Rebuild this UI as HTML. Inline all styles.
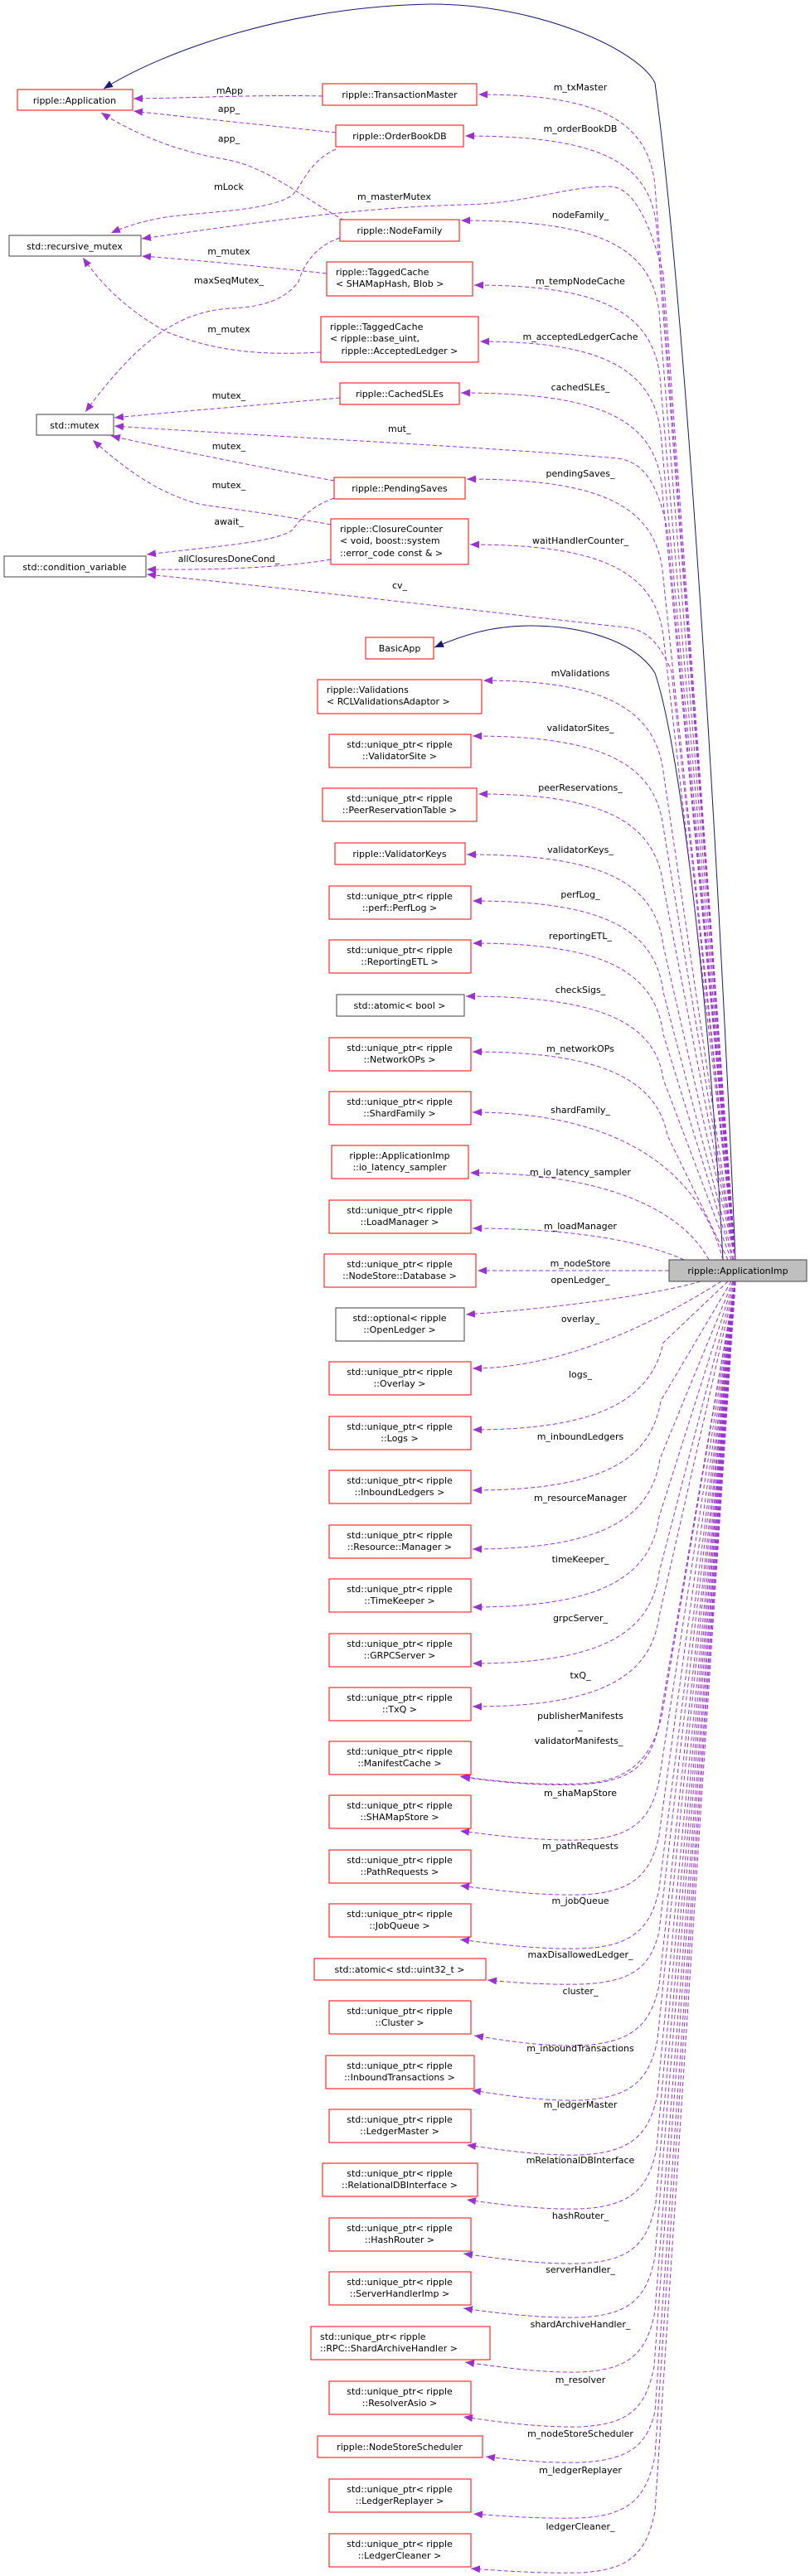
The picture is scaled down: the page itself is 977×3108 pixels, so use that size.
<!DOCTYPE html>
<html><head><meta charset="utf-8"><style>
html,body{margin:0;padding:0;background:#fff;}
svg{display:block;}
text{font-family:"DejaVu Sans","Liberation Sans",sans-serif;font-size:11px;fill:#000;}
.r{fill:#fff;stroke:#ff0000;stroke-width:1;}
.k{fill:#fff;stroke:#404040;stroke-width:1;}
.g{fill:#bfbfbf;stroke:#404040;stroke-width:1;}
.e{fill:none;stroke:#9a32cd;stroke-width:1;stroke-dasharray:5,3;}
.n{fill:none;stroke:#191970;stroke-width:1;}
.m{text-anchor:middle;}
</style></head><body>
<svg width="977" height="3108" viewBox="0 0 977 3108" xmlns="http://www.w3.org/2000/svg">
<defs>
<marker id="ap" markerUnits="userSpaceOnUse" markerWidth="12" markerHeight="10" refX="11" refY="4.5" orient="auto"><path d="M0,0 L11,4.5 L0,9 z" fill="#9a32cd"/></marker>
<marker id="an" markerUnits="userSpaceOnUse" markerWidth="12" markerHeight="10" refX="11" refY="4.5" orient="auto"><path d="M0,0 L11,4.5 L0,9 z" fill="#191970"/></marker>
</defs>

<!-- inheritance -->
<path class="n" marker-end="url(#an)" d="M887,1520 C870,1100 830,400 790,100 C770,60 650,5 520,5 C350,8 200,60 125,107"/>
<path class="n" marker-end="url(#an)" d="M872,1520 C855,1200 820,900 790,812 C765,772 700,755 640,755 C590,755 555,768 524,781"/>

<!-- left-side edges -->
<path class="e" marker-end="url(#ap)" d="M389,116 C320,114 240,118 161,119"/>
<path class="e" marker-end="url(#ap)" d="M405,160 C330,152 240,143 161,134"/>
<path class="e" marker-end="url(#ap)" d="M415,266 C360,235 320,200 270,192 C210,182 160,160 122,136"/>
<path class="e" marker-end="url(#ap)" d="M405,180 C372,195 366,222 352,236 C322,255 250,255 200,262 C170,267 150,274 134,281"/>
<path class="e" marker-end="url(#ap)" d="M887,1520 L800,330 C782,262 762,225 735,225 C680,225 640,245 560,247 C430,250 300,270 171,288"/>
<path class="e" marker-end="url(#ap)" d="M394,330 C320,322 240,314 171,309"/>
<path class="e" marker-end="url(#ap)" d="M410,287 C380,297 366,320 360,340 C345,360 320,370 280,372 C220,375 170,405 103,497"/>
<path class="e" marker-end="url(#ap)" d="M387,425 C300,430 250,420 200,400 C150,372 122,342 100,311"/>
<path class="e" marker-end="url(#ap)" d="M410,480 C320,488 220,496 138,504"/>
<path class="e" marker-end="url(#ap)" d="M887,1520 L805,640 C792,575 772,557 745,553 C600,540 300,525 138,514"/>
<path class="e" marker-end="url(#ap)" d="M403,580 C320,565 220,545 134,526"/>
<path class="e" marker-end="url(#ap)" d="M399,633 C320,618 260,612 240,608 C190,595 150,565 112,531"/>
<path class="e" marker-end="url(#ap)" d="M403,601 C372,612 362,628 352,640 C330,655 250,660 177,669"/>
<path class="e" marker-end="url(#ap)" d="M399,675 C340,685 260,688 177,687"/>
<path class="e" marker-end="url(#ap)" d="M887,1520 L810,810 C795,775 780,760 755,757 C600,740 400,715 177,693"/>

<!-- upper edges from ApplicationImp -->
<path class="e" marker-end="url(#ap)" d="M887,1520 L790,224 C782,144 720,114 577,114"/>
<path class="e" marker-end="url(#ap)" d="M887,1520 L792,274 C784,194 720,164 561,164"/>
<path class="e" marker-end="url(#ap)" d="M887,1520 L795,376 C785,296 720,266 556,266"/>
<path class="e" marker-end="url(#ap)" d="M887,1520 L796,454 C786,374 720,344 572,344"/>
<path class="e" marker-end="url(#ap)" d="M887,1520 L797,522 C787,442 720,412 579,412"/>
<path class="e" marker-end="url(#ap)" d="M887,1520 L798,584 C788,504 720,474 556,474"/>
<path class="e" marker-end="url(#ap)" d="M887,1520 L799,688 C789,608 720,578 563,578"/>
<path class="e" marker-end="url(#ap)" d="M887,1520 L800,767 C790,687 720,657 567,657"/>
<path class="e" marker-end="url(#ap)" d="M887,1520 L800,931 C790,851 720,821 583,821"/>
<path class="e" marker-end="url(#ap)" d="M887,1520 L800,998 C790,918 720,888 570,888"/>
<path class="e" marker-end="url(#ap)" d="M887,1520 L800,1068 C790,988 720,958 577,958"/>
<path class="e" marker-end="url(#ap)" d="M887,1520 L800,1141 C790,1061 720,1031 563,1031"/>
<path class="e" marker-end="url(#ap)" d="M885,1520 L800,1197 C790,1117 720,1087 570,1087"/>
<path class="e" marker-end="url(#ap)" d="M884,1520 L800,1248 C790,1168 720,1138 570,1138"/>
<path class="e" marker-end="url(#ap)" d="M882,1520 L800,1302 C790,1232 720,1202 562,1202"/>
<path class="e" marker-end="url(#ap)" d="M878,1520 L805,1370 C792,1300 720,1269 570,1269"/>
<path class="e" marker-end="url(#ap)" d="M872,1520 C840,1400 730,1342 570,1342"/>
<path class="e" marker-end="url(#ap)" d="M855,1520 C820,1455 720,1415 567,1415"/>
<path class="e" marker-end="url(#ap)" d="M825,1520 C770,1495 680,1482 570,1482"/>

<!-- lower edges -->
<path class="e" marker-end="url(#ap)" d="M807,1533 L576,1533"/>
<path class="e" marker-end="url(#ap)" d="M845,1546 C780,1565 650,1580 562,1586"/>
<path class="e" marker-end="url(#ap)" d="M870,1546 C830,1571 700,1651 570,1651"/>
<path class="e" marker-end="url(#ap)" d="M878,1546 L800,1620 C785,1690 720,1725 570,1725"/>
<path class="e" marker-end="url(#ap)" d="M882,1546 L797,1690 C785,1765 720,1798 570,1798"/>
<path class="e" marker-end="url(#ap)" d="M884,1546 L796,1760 C785,1835 720,1869 570,1869"/>
<path class="e" marker-end="url(#ap)" d="M885,1546 L795,1830 C785,1905 720,1939 570,1939"/>
<path class="e" marker-end="url(#ap)" d="M886,1546 L795,1897 C785,1973 720,2007 570,2007"/>
<path class="e" marker-end="url(#ap)" d="M887,1546 L795,1950 C785,2025 720,2059 570,2059"/>
<path class="e" marker-end="url(#ap)" d="M887,1546 L800,2060 C790,2120 760,2150 700,2152 C650,2154 600,2150 555,2143"/>
<path class="e" marker-end="url(#ap)" d="M887,1546 L795,2080 C785,2130 760,2150 700,2153 C650,2155 600,2150 556,2144"/>
<path class="e" marker-end="url(#ap)" d="M887,1546 L795,2148 C785,2198 760,2218 700,2220 C650,2221 600,2215 555,2209"/>
<path class="e" marker-end="url(#ap)" d="M887,1546 L795,2214 C785,2264 760,2284 700,2286 C650,2287 600,2281 555,2275"/>
<path class="e" marker-end="url(#ap)" d="M887,1546 L795,2279 C785,2329 760,2349 700,2351 C650,2352 600,2346 555,2340"/>
<path class="e" marker-end="url(#ap)" d="M887,1546 L795,2330 C785,2375 760,2392 700,2394 C660,2395 620,2392 588,2389"/>
<path class="e" marker-end="url(#ap)" d="M887,1546 L795,2395 C785,2445 760,2465 700,2468 C650,2469 610,2462 572,2456"/>
<path class="e" marker-end="url(#ap)" d="M887,1546 L793,2461 C783,2511 760,2531 700,2534 C650,2535 610,2528 569,2522"/>
<path class="e" marker-end="url(#ap)" d="M887,1546 L793,2527 C783,2577 760,2597 700,2600 C650,2601 605,2594 563,2588"/>
<path class="e" marker-end="url(#ap)" d="M887,1546 L792,2592 C782,2642 760,2662 700,2665 C650,2666 605,2660 563,2654"/>
<path class="e" marker-end="url(#ap)" d="M887,1546 L791,2658 C781,2708 760,2728 700,2731 C650,2732 600,2725 559,2719"/>
<path class="e" marker-end="url(#ap)" d="M887,1546 L790,2723 C780,2773 760,2793 700,2796 C650,2797 600,2791 559,2785"/>
<path class="e" marker-end="url(#ap)" d="M887,1546 L790,2789 C780,2839 760,2859 700,2862 C650,2863 605,2856 561,2850"/>
<path class="e" marker-end="url(#ap)" d="M887,1546 L789,2855 C779,2905 760,2925 700,2928 C650,2929 600,2922 559,2916"/>
<path class="e" marker-end="url(#ap)" d="M887,1546 L790,2910 C780,2950 760,2968 700,2971 C660,2972 620,2968 586,2964"/>
<path class="e" marker-end="url(#ap)" d="M887,1546 L790,2963 C780,3013 760,3035 700,3038 C650,3039 610,3036 571,3033"/>
<path class="e" marker-end="url(#ap)" d="M887,1546 L790,3030 C780,3080 760,3101 700,3104 C650,3105 610,3102 568,3099"/>

<!-- nodes left -->
<rect class="r" x="21" y="108" width="139" height="25"/><text class="m" x="90" y="125">ripple::Application</text>
<rect class="k" x="11" y="284" width="159" height="25"/><text class="m" x="90" y="301">std::recursive_mutex</text>
<rect class="k" x="44" y="500" width="93" height="25"/><text class="m" x="90" y="517">std::mutex</text>
<rect class="k" x="5" y="671" width="171" height="25"/><text class="m" x="90" y="688">std::condition_variable</text>

<!-- nodes middle top -->
<rect class="r" x="389" y="101" width="186" height="26"/><text class="m" x="482" y="118">ripple::TransactionMaster</text>
<rect class="r" x="405" y="151" width="154" height="26"/><text class="m" x="482" y="168">ripple::OrderBookDB</text>
<rect class="r" x="410" y="265" width="144" height="26"/><text class="m" x="482" y="282">ripple::NodeFamily</text>
<rect class="r" x="394" y="316" width="176" height="41"/><text x="405" y="332">ripple::TaggedCache</text><text x="405" y="346">&lt; SHAMapHash, Blob &gt;</text>
<rect class="r" x="387" y="382" width="190" height="55"/><text x="398" y="398">ripple::TaggedCache</text><text x="398" y="412">&lt; ripple::base_uint,</text><text class="m" x="482" y="427">ripple::AcceptedLedger &gt;</text>
<rect class="r" x="410" y="462" width="144" height="26"/><text class="m" x="482" y="479">ripple::CachedSLEs</text>
<rect class="r" x="403" y="576" width="158" height="26"/><text class="m" x="482" y="593">ripple::PendingSaves</text>
<rect class="r" x="399" y="626" width="166" height="55"/><text x="410" y="642">ripple::ClosureCounter</text><text x="410" y="656">&lt; void, boost::system</text><text x="410" y="671">::error_code const &amp; &gt;</text>
<rect class="r" x="441" y="769" width="82" height="26"/><text class="m" x="482" y="786">BasicApp</text>
<rect class="r" x="383" y="820" width="198" height="41"/><text x="394" y="836">ripple::Validations</text><text x="394" y="850">&lt; RCLValidationsAdaptor &gt;</text>

<!-- unique_ptr etc -->
<rect class="r" x="397" y="886" width="171" height="40"/><text class="m" x="482" y="902">std::unique_ptr&lt; ripple</text><text class="m" x="482" y="916">::ValidatorSite &gt;</text>
<rect class="r" x="389" y="951" width="186" height="40"/><text class="m" x="482" y="967">std::unique_ptr&lt; ripple</text><text class="m" x="482" y="981">::PeerReservationTable &gt;</text>
<rect class="r" x="404" y="1017" width="157" height="26"/><text class="m" x="482" y="1034">ripple::ValidatorKeys</text>
<rect class="r" x="397" y="1069" width="171" height="40"/><text class="m" x="482" y="1085">std::unique_ptr&lt; ripple</text><text class="m" x="482" y="1099">::perf::PerfLog &gt;</text>
<rect class="r" x="397" y="1134" width="171" height="40"/><text class="m" x="482" y="1150">std::unique_ptr&lt; ripple</text><text class="m" x="482" y="1164">::ReportingETL &gt;</text>
<rect class="k" x="406" y="1200" width="154" height="26"/><text class="m" x="482" y="1217">std::atomic&lt; bool &gt;</text>
<rect class="r" x="397" y="1252" width="171" height="40"/><text class="m" x="482" y="1268">std::unique_ptr&lt; ripple</text><text class="m" x="482" y="1282">::NetworkOPs &gt;</text>
<rect class="r" x="397" y="1317" width="171" height="40"/><text class="m" x="482" y="1333">std::unique_ptr&lt; ripple</text><text class="m" x="482" y="1347">::ShardFamily &gt;</text>
<rect class="r" x="400" y="1382" width="165" height="40"/><text class="m" x="482" y="1398">ripple::ApplicationImp</text><text class="m" x="482" y="1412">::io_latency_sampler</text>
<rect class="r" x="397" y="1448" width="171" height="40"/><text class="m" x="482" y="1464">std::unique_ptr&lt; ripple</text><text class="m" x="482" y="1478">::LoadManager &gt;</text>
<rect class="r" x="391" y="1513" width="183" height="40"/><text class="m" x="482" y="1529">std::unique_ptr&lt; ripple</text><text class="m" x="482" y="1543">::NodeStore::Database &gt;</text>
<rect class="g" x="807" y="1520" width="166" height="26"/><text class="m" x="890" y="1537">ripple::ApplicationImp</text>
<rect class="k" x="405" y="1578" width="155" height="40"/><text class="m" x="482" y="1594">std::optional&lt; ripple</text><text class="m" x="482" y="1608">::OpenLedger &gt;</text>
<rect class="r" x="397" y="1643" width="171" height="40"/><text class="m" x="482" y="1659">std::unique_ptr&lt; ripple</text><text class="m" x="482" y="1673">::Overlay &gt;</text>
<rect class="r" x="397" y="1709" width="171" height="40"/><text class="m" x="482" y="1725">std::unique_ptr&lt; ripple</text><text class="m" x="482" y="1739">::Logs &gt;</text>
<rect class="r" x="397" y="1774" width="171" height="40"/><text class="m" x="482" y="1790">std::unique_ptr&lt; ripple</text><text class="m" x="482" y="1804">::InboundLedgers &gt;</text>
<rect class="r" x="397" y="1840" width="171" height="40"/><text class="m" x="482" y="1856">std::unique_ptr&lt; ripple</text><text class="m" x="482" y="1870">::Resource::Manager &gt;</text>
<rect class="r" x="397" y="1905" width="171" height="40"/><text class="m" x="482" y="1921">std::unique_ptr&lt; ripple</text><text class="m" x="482" y="1935">::TimeKeeper &gt;</text>
<rect class="r" x="397" y="1971" width="171" height="40"/><text class="m" x="482" y="1987">std::unique_ptr&lt; ripple</text><text class="m" x="482" y="2001">::GRPCServer &gt;</text>
<rect class="r" x="397" y="2036" width="171" height="40"/><text class="m" x="482" y="2052">std::unique_ptr&lt; ripple</text><text class="m" x="482" y="2066">::TxQ &gt;</text>
<rect class="r" x="397" y="2101" width="171" height="40"/><text class="m" x="482" y="2117">std::unique_ptr&lt; ripple</text><text class="m" x="482" y="2131">::ManifestCache &gt;</text>
<rect class="r" x="397" y="2166" width="171" height="40"/><text class="m" x="482" y="2182">std::unique_ptr&lt; ripple</text><text class="m" x="482" y="2196">::SHAMapStore &gt;</text>
<rect class="r" x="397" y="2232" width="171" height="40"/><text class="m" x="482" y="2248">std::unique_ptr&lt; ripple</text><text class="m" x="482" y="2262">::PathRequests &gt;</text>
<rect class="r" x="397" y="2297" width="171" height="40"/><text class="m" x="482" y="2313">std::unique_ptr&lt; ripple</text><text class="m" x="482" y="2327">::JobQueue &gt;</text>
<rect class="r" x="379" y="2363" width="207" height="26"/><text class="m" x="482" y="2380">std::atomic&lt; std::uint32_t &gt;</text>
<rect class="r" x="397" y="2414" width="171" height="40"/><text class="m" x="482" y="2430">std::unique_ptr&lt; ripple</text><text class="m" x="482" y="2444">::Cluster &gt;</text>
<rect class="r" x="393" y="2480" width="179" height="40"/><text class="m" x="482" y="2496">std::unique_ptr&lt; ripple</text><text class="m" x="482" y="2510">::InboundTransactions &gt;</text>
<rect class="r" x="397" y="2545" width="171" height="40"/><text class="m" x="482" y="2561">std::unique_ptr&lt; ripple</text><text class="m" x="482" y="2575">::LedgerMaster &gt;</text>
<rect class="r" x="389" y="2610" width="187" height="40"/><text class="m" x="482" y="2626">std::unique_ptr&lt; ripple</text><text class="m" x="482" y="2640">::RelationalDBInterface &gt;</text>
<rect class="r" x="397" y="2676" width="171" height="40"/><text class="m" x="482" y="2692">std::unique_ptr&lt; ripple</text><text class="m" x="482" y="2706">::HashRouter &gt;</text>
<rect class="r" x="397" y="2741" width="171" height="40"/><text class="m" x="482" y="2757">std::unique_ptr&lt; ripple</text><text class="m" x="482" y="2771">::ServerHandlerImp &gt;</text>
<rect class="r" x="375" y="2807" width="216" height="40"/><text x="386" y="2823">std::unique_ptr&lt; ripple</text><text x="386" y="2837">::RPC::ShardArchiveHandler &gt;</text>
<rect class="r" x="397" y="2873" width="171" height="40"/><text class="m" x="482" y="2889">std::unique_ptr&lt; ripple</text><text class="m" x="482" y="2903">::ResolverAsio &gt;</text>
<rect class="r" x="383" y="2939" width="199" height="26"/><text class="m" x="482" y="2956">ripple::NodeStoreScheduler</text>
<rect class="r" x="397" y="2991" width="171" height="40"/><text class="m" x="482" y="3007">std::unique_ptr&lt; ripple</text><text class="m" x="482" y="3021">::LedgerReplayer &gt;</text>
<rect class="r" x="397" y="3057" width="171" height="40"/><text class="m" x="482" y="3073">std::unique_ptr&lt; ripple</text><text class="m" x="482" y="3087">::LedgerCleaner &gt;</text>

<!-- edge labels left -->
<text class="m" x="277" y="113">mApp</text>
<text class="m" x="276" y="135">app_</text>
<text class="m" x="276" y="171">app_</text>
<text class="m" x="276" y="229">mLock</text>
<text x="431" y="241">m_masterMutex</text>
<text class="m" x="276" y="307">m_mutex</text>
<text class="m" x="276" y="342">maxSeqMutex_</text>
<text class="m" x="276" y="401">m_mutex</text>
<text class="m" x="276" y="481">mutex_</text>
<text x="468" y="521">mut_</text>
<text class="m" x="276" y="542">mutex_</text>
<text class="m" x="276" y="589">mutex_</text>
<text class="m" x="276" y="633">await_</text>
<text class="m" x="276" y="678">allClosuresDoneCond_</text>
<text x="473" y="710">cv_</text>

<!-- edge labels right -->
<text class="m" x="700" y="109">m_txMaster</text>
<text class="m" x="700" y="159">m_orderBookDB</text>
<text class="m" x="700" y="263">nodeFamily_</text>
<text class="m" x="700" y="343">m_tempNodeCache</text>
<text class="m" x="700" y="410">m_acceptedLedgerCache</text>
<text class="m" x="700" y="471">cachedSLEs_</text>
<text class="m" x="700" y="575">pendingSaves_</text>
<text class="m" x="700" y="656">waitHandlerCounter_</text>
<text class="m" x="700" y="816">mValidations</text>
<text class="m" x="700" y="882">validatorSites_</text>
<text class="m" x="700" y="954">peerReservations_</text>
<text class="m" x="700" y="1029">validatorKeys_</text>
<text class="m" x="700" y="1083">perfLog_</text>
<text class="m" x="700" y="1133">reportingETL_</text>
<text class="m" x="700" y="1198">checkSigs_</text>
<text class="m" x="700" y="1269">m_networkOPs</text>
<text class="m" x="700" y="1343">shardFamily_</text>
<text class="m" x="700" y="1418">m_io_latency_sampler</text>
<text class="m" x="700" y="1483">m_loadManager</text>
<text class="m" x="700" y="1528">m_nodeStore</text>
<text class="m" x="700" y="1548">openLedger_</text>
<text class="m" x="700" y="1595">overlay_</text>
<text class="m" x="700" y="1662">logs_</text>
<text class="m" x="700" y="1737">m_inboundLedgers</text>
<text class="m" x="700" y="1811">m_resourceManager</text>
<text class="m" x="700" y="1885">timeKeeper_</text>
<text class="m" x="700" y="1956">grpcServer_</text>
<text class="m" x="700" y="2025">txQ_</text>
<text class="m" x="700" y="2074">publisherManifests</text>
<text class="m" x="700" y="2086">_</text>
<text class="m" x="698" y="2104">validatorManifests_</text>
<text class="m" x="700" y="2167">m_shaMapStore</text>
<text class="m" x="700" y="2231">m_pathRequests</text>
<text class="m" x="700" y="2297">m_jobQueue</text>
<text class="m" x="700" y="2362">maxDisallowedLedger_</text>
<text class="m" x="700" y="2406">cluster_</text>
<text class="m" x="700" y="2475">m_inboundTransactions</text>
<text class="m" x="700" y="2543">m_ledgerMaster</text>
<text class="m" x="700" y="2610">mRelationalDBInterface</text>
<text class="m" x="700" y="2677">hashRouter_</text>
<text class="m" x="700" y="2742">serverHandler_</text>
<text class="m" x="700" y="2808">shardArchiveHandler_</text>
<text class="m" x="700" y="2875">m_resolver</text>
<text class="m" x="700" y="2940">m_nodeStoreScheduler</text>
<text class="m" x="700" y="2984">m_ledgerReplayer</text>
<text class="m" x="700" y="3052">ledgerCleaner_</text>
</svg>
</body></html>
